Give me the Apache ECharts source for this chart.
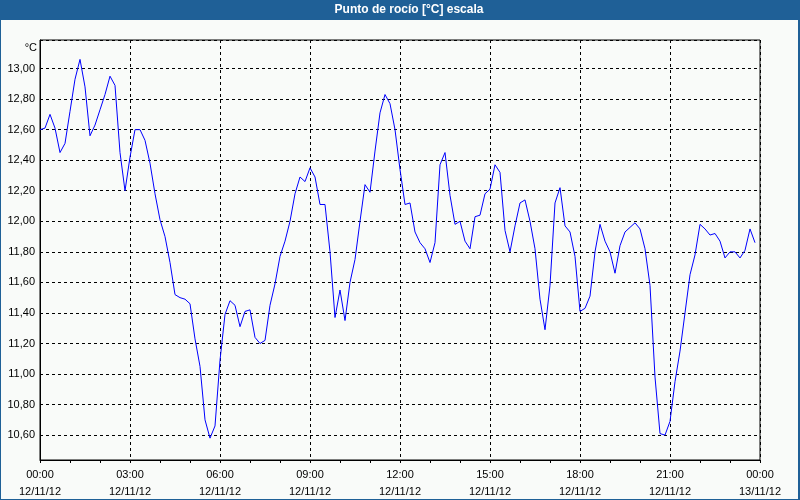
<!DOCTYPE html>
<html>
<head>
<meta charset="utf-8">
<script src="https://cdn.jsdelivr.net/npm/echarts@6/dist/echarts.min.js"></script>
<style>html,body{margin:0;padding:0;background:#1f6097;}#c{width:800px;height:500px;}</style>
</head>
<body>
<div id="c"></div>
<script>
// Chart data
const chartTitle = 'Punto de rocío [°C] escala';
const yUnit = '°C';
const startDate = '12/11/12';
const endDate = '13/11/12';
const stepMinutes = 10; // one reading every 10 minutes from 00:00
const dewPoint = [
  12.60, 12.61, 12.70, 12.61, 12.45, 12.51, 12.72, 12.93, 13.06, 12.88,
  12.56, 12.63, 12.73, 12.83, 12.95, 12.89, 12.45, 12.20, 12.42, 12.60,
  12.60, 12.53, 12.38, 12.18, 12.01, 11.90, 11.73, 11.52, 11.50, 11.49,
  11.46, 11.23, 11.05, 10.70, 10.58, 10.66, 11.09, 11.39, 11.48, 11.45,
  11.31, 11.41, 11.42, 11.24, 11.20, 11.22, 11.45, 11.59, 11.77, 11.87,
  12.00, 12.18, 12.29, 12.26, 12.35, 12.29, 12.11, 12.11, 11.80, 11.37,
  11.55, 11.35, 11.60, 11.75, 12.00, 12.24, 12.19, 12.46, 12.71, 12.83,
  12.77, 12.60, 12.34, 12.11, 12.12, 11.93, 11.86, 11.82, 11.73, 11.86,
  12.37, 12.45, 12.17, 11.98, 12.00, 11.87, 11.82, 12.03, 12.04, 12.18,
  12.21, 12.37, 12.32, 11.94, 11.80, 11.97, 12.12, 12.14, 12.00, 11.82,
  11.49, 11.29, 11.58, 12.12, 12.22, 11.97, 11.93, 11.77, 11.41, 11.43,
  11.51, 11.80, 11.98, 11.87, 11.80, 11.66, 11.84, 11.93, 11.96, 11.99,
  11.95, 11.82, 11.58, 10.98, 10.61, 10.60, 10.69, 10.95, 11.15, 11.40,
  11.65, 11.78, 11.98, 11.95, 11.91, 11.92, 11.87, 11.76, 11.80, 11.80,
  11.76, 11.81, 11.95, 11.86
];
const yMin = 10.437, yMax = 13.187;
const xHourTicks = [0, 3, 6, 9, 12, 15, 18, 21, 24];

const seriesData = dewPoint.map((v, i) => [i * stepMinutes / 60, v]);
const font = 'Liberation Sans, Arial, sans-serif';
const bg = '#f9fbf9';

const chart = echarts.init(document.getElementById('c'), null, {renderer: 'canvas'});
chart.setOption({
  animation: false,
  backgroundColor: '#1f6097',
  graphic: [
    {type: 'rect', z: -100, shape: {x: 1, y: 20, width: 797, height: 479}, style: {fill: bg}, silent: true},
    {type: 'text', z: 100, x: 409, y: 10, style: {text: chartTitle, fill: '#ffffff', font: 'bold 12px ' + font, align: 'center', verticalAlign: 'middle'}}
  ],
  grid: {left: 40, right: 40, top: 40, bottom: 38, show: true, borderColor: '#000', borderWidth: 1, backgroundColor: bg},
  xAxis: {
    type: 'value', min: 0, max: 24, interval: 3,
    axisLine: {lineStyle: {color: '#000', width: 1}},
    axisTick: {show: true, length: 3, lineStyle: {color: '#000'}},
    minorTick: {show: true, splitNumber: 3, length: 3, lineStyle: {color: '#000'}},
    splitLine: {show: true, lineStyle: {color: '#000', type: [3, 3], width: 1}},
    axisLabel: {
      margin: 6, color: '#000', fontSize: 11, fontFamily: font, lineHeight: 17,
      showMinLabel: true, showMaxLabel: true,
      formatter: function (v) {
        const h = Math.round(v) % 24;
        const d = v >= 24 ? endDate : startDate;
        return (h < 10 ? '0' : '') + h + ':00\n' + d;
      }
    }
  },
  yAxis: {
    type: 'value', min: yMin, max: yMax, splitNumber: 14,
    name: yUnit, nameLocation: 'end', nameGap: -2,
    nameTextStyle: {align: 'right', verticalAlign: 'top', color: '#000', fontSize: 11, fontFamily: font, padding: [0, 3, 0, 0]},
    axisLine: {show: true, lineStyle: {color: '#000', width: 1}},
    axisTick: {show: false},
    splitLine: {show: true, lineStyle: {color: '#000', type: [3, 3], width: 1}},
    axisLabel: {
      margin: 5, color: '#000', fontSize: 11, fontFamily: font,
      showMinLabel: false, showMaxLabel: false,
      formatter: function (v) {
        const r = Math.round(v / 0.2) * 0.2;
        if (Math.abs(r - v) > 1e-6) return '';
        return v.toFixed(2).replace('.', ',');
      }
    }
  },
  series: [{
    type: 'line', data: seriesData, showSymbol: false, symbol: 'none',
    lineStyle: {color: '#0000ff', width: 1}, z: 5
  }]
});
</script>
</body>
</html>
